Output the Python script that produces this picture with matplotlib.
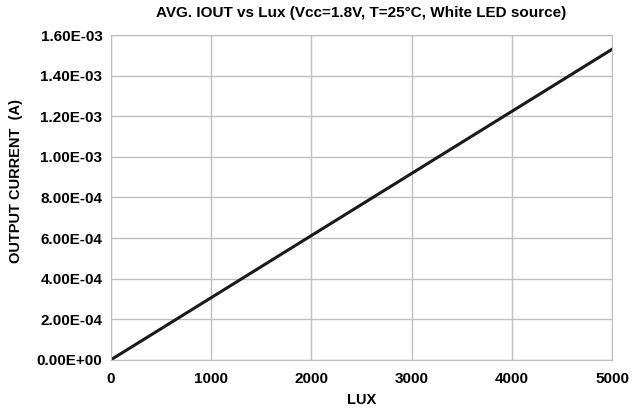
import matplotlib
matplotlib.use('Agg')
from matplotlib import pyplot as plt
from matplotlib.ticker import FuncFormatter

# 读图得到的数据
lux = [0, 1000, 2000, 3000, 4000, 5000]
iout = [0.0, 3.06e-4, 6.12e-4, 9.18e-4, 1.224e-3, 1.53e-3]
xticks = [0, 1000, 2000, 3000, 4000, 5000]
yticks = [0, 2e-4, 4e-4, 6e-4, 8e-4, 1e-3, 1.2e-3, 1.4e-3, 1.6e-3]

plt.rcParams['font.family'] = ['Liberation Sans', 'DejaVu Sans']
plt.rcParams['font.weight'] = 'bold'

fig = plt.figure(figsize=(6.33, 4.17), dpi=100)
ax = fig.add_axes([0.175, 0.137, 0.792, 0.779])
ax.plot(lux, iout, c='#1a1a1a', lw=2.2)

ax.set_xlim(0, 5000)
ax.set_ylim(0, 1.6e-3)
ax.set_xticks(xticks)
ax.set_yticks(yticks)
ax.yaxis.set_major_formatter(FuncFormatter(lambda v, p: '%.2E' % v))
ax.grid(True, color='#bfbfbf', lw=1)
ax.set_axisbelow(True)
for s in ax.spines.values():
    s.set_color('#bfbfbf')
ax.tick_params(axis='y', length=0, labelsize=11, pad=6)
ax.tick_params(axis='x', length=0, labelsize=11, pad=9)

ax.set_title('AVG. IOUT vs Lux (Vcc=1.8V, T=25°C, White LED source)',
             fontsize=11, fontweight='bold', pad=13)
ax.set_xlabel('LUX', fontsize=10.5, fontweight='bold', labelpad=5)
ax.set_ylabel('OUTPUT CURRENT  (A)', fontsize=10.5, fontweight='bold', labelpad=6)
ax.yaxis.set_label_coords(-0.175, 0.55)

fig.savefig('out.png', dpi=100)
